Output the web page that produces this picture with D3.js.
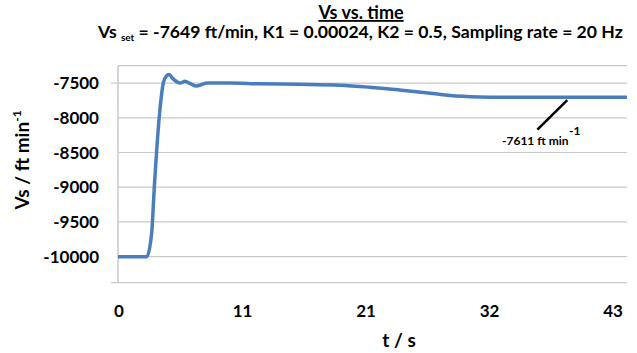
<!DOCTYPE html>
<html>
<head>
<meta charset="utf-8">
<script src="https://cdn.jsdelivr.net/npm/d3@7"></script>
<style>
  body { margin: 0; background: #fff; }
  text { font-family: Lato, "Open Sans", sans-serif; font-weight: bold; fill: #000; }
</style>
</head>
<body>
<div id="chart"></div>
<script>
// values
var times = [0, 2.5, 2.93, 3.16, 3.59, 3.94, 4.2, 4.44, 4.8, 5.4, 5.83, 6.3, 6.85, 7.3, 7.72, 9.75, 12.2, 15.8, 19.3, 21.9, 24.5, 27.4, 28.9, 31.5, 33.2, 44.3];
var vs = [-10000, -10000, -9660, -9000, -7990, -7500, -7400, -7377, -7440, -7500, -7475, -7510, -7543, -7520, -7500, -7500, -7510, -7517, -7530, -7560, -7600, -7650, -7678, -7700, -7705, -7705];
var yTicks = [-7500, -8000, -8500, -9000, -9500, -10000];
var xTickPos = [0, 10.75, 21.5, 32.25, 43];
var xTickLabels = ["0", "11", "21", "32", "43"];
var note = { t: 39.1, v: -7745, labelT: 36.5, labelV: -8170, text: "-7611 ft min", sup: "-1" };

var width = 637, height = 353;
var plotLeft = 118, plotRight = 627, plotTop = 65.7, plotBottom = 282.7;

var svg = d3.select("#chart").append("svg")
    .attr("width", width)
    .attr("height", height);

var x = d3.scaleLinear().domain([0, 44.3]).range([plotLeft, plotRight]);
var y = d3.scaleLinear().domain([-10375, -7250]).range([plotBottom, plotTop]);

var grid = "#c9c9c9";

// gridlines
svg.append("g").selectAll("line")
    .data(yTicks.concat([-7250]))
    .enter().append("line")
    .attr("x1", plotLeft).attr("x2", plotRight)
    .attr("y1", function(d){ return y(d); })
    .attr("y2", function(d){ return y(d); })
    .attr("stroke", grid).attr("stroke-width", 1.2);

// small outward stub on -7500, bottom axis, left axis
svg.append("line")
    .attr("x1", 111).attr("x2", plotLeft)
    .attr("y1", y(-7500)).attr("y2", y(-7500))
    .attr("stroke", grid).attr("stroke-width", 1.2);
svg.append("line")
    .attr("x1", 111).attr("x2", plotRight)
    .attr("y1", plotBottom).attr("y2", plotBottom)
    .attr("stroke", grid).attr("stroke-width", 1.2);
svg.append("line")
    .attr("x1", plotLeft).attr("x2", plotLeft)
    .attr("y1", plotTop).attr("y2", plotBottom)
    .attr("stroke", grid).attr("stroke-width", 1.5);

// y tick labels
svg.append("g").selectAll("text")
    .data(yTicks)
    .enter().append("text")
    .attr("x", 99)
    .attr("y", function(d){ return y(d) + 6; })
    .attr("text-anchor", "end")
    .style("font-size", "17px")
    .text(function(d){ return d; });

// x tick labels
svg.append("g").selectAll("text")
    .data(xTickPos)
    .enter().append("text")
    .attr("x", function(d){ return x(d) + 1; })
    .attr("y", 317)
    .attr("text-anchor", "middle")
    .style("font-size", "17px")
    .text(function(d, i){ return xTickLabels[i]; });

// the curve
var line = d3.line()
    .x(function(d){ return x(d[0]); })
    .y(function(d){ return y(d[1]); })
    .curve(d3.curveMonotoneX);

svg.append("path")
    .datum(times.map(function(t, i){ return [t, vs[i]]; }))
    .attr("d", line)
    .attr("fill", "none")
    .attr("stroke", "#4a7ebb")
    .attr("stroke-width", 3.5)
    .attr("stroke-linejoin", "round");

// annotation
svg.append("line")
    .attr("x1", x(note.labelT)).attr("y1", y(note.labelV))
    .attr("x2", x(note.t)).attr("y2", y(note.v))
    .attr("stroke", "#000").attr("stroke-width", 2.5);
svg.append("text")
    .attr("x", 502)
    .attr("y", 145)
    .style("font-size", "12px")
    .text(note.text);
svg.append("text")
    .attr("x", 569).attr("y", 135)
    .style("font-size", "12px")
    .text(note.sup);

// titles
svg.append("text")
    .attr("x", 361).attr("y", 19)
    .attr("text-anchor", "middle")
    .style("font-size", "18px")
    .style("text-decoration", "underline")
    .text("Vs vs. time");

var sub = svg.append("text")
    .attr("x", 98).attr("y", 38)
    .style("font-size", "17.6px");
sub.append("tspan").text("Vs ");
sub.append("tspan").attr("dy", 3).style("font-size", "10px").text("set");
sub.append("tspan").attr("dy", -3).text(" = -7649 ft/min, K1 = 0.00024, K2 = 0.5, Sampling rate = 20 Hz");

// axis titles
svg.append("text")
    .attr("x", 399).attr("y", 347)
    .attr("text-anchor", "middle")
    .style("font-size", "19px")
    .text("t / s");

var yl = svg.append("text")
    .attr("transform", "translate(29,160) rotate(-90)")
    .attr("text-anchor", "middle")
    .style("font-size", "19px");
yl.append("tspan").text("Vs / ft min");
yl.append("tspan").attr("dy", -8).style("font-size", "12px").text("-1");
</script>
</body>
</html>
